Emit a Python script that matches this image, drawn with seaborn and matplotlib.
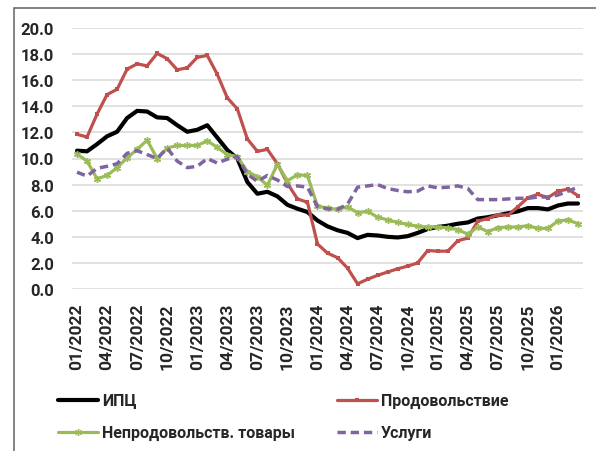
import matplotlib
matplotlib.use('Agg')
import matplotlib.pyplot as plt
import seaborn as sns
import numpy as np
from matplotlib.patches import Rectangle

# monthly data 01/2022 .. 03/2026, % y/y
months = [f'{m:02d}/{y}' for y in range(2022, 2027) for m in range(1, 13)][:51]

cpi = [10.6, 10.55, 11.1, 11.7, 12.05, 13.1, 13.65, 13.6, 13.15, 13.1,
       12.55, 12.05, 12.2, 12.55, 11.6, 10.65, 10.0, 8.2, 7.3, 7.45,
       7.1, 6.45, 6.15, 5.9, 5.25, 4.8, 4.5, 4.3, 3.9, 4.15,
       4.1, 4.0, 3.95, 4.05, 4.3, 4.6, 4.75, 4.85, 5.0, 5.1,
       5.4, 5.5, 5.65, 5.8, 5.95, 6.2, 6.2, 6.1, 6.4, 6.55,
       6.55]
food = [11.85, 11.65, 13.4, 14.9, 15.3, 16.85, 17.25, 17.1, 18.05, 17.65,
        16.8, 16.95, 17.75, 17.9, 16.45, 14.65, 13.8, 11.5, 10.55, 10.7,
        9.6, 8.1, 6.9, 6.65, 3.45, 2.75, 2.4, 1.6, 0.4, 0.75,
        1.05, 1.3, 1.55, 1.75, 2.0, 2.95, 2.9, 2.9, 3.7, 3.9,
        5.2, 5.4, 5.7, 5.65, 6.3, 7.0, 7.25, 7.0, 7.5, 7.65,
        7.15]
nonfood = [10.35, 9.8, 8.45, 8.7, 9.3, 10.05, 10.7, 11.4, 10.0, 10.8,
           11.0, 11.0, 11.0, 11.35, 10.85, 10.3, 10.15, 9.0, 8.6, 7.95,
           9.55, 8.3, 8.75, 8.7, 6.35, 6.2, 6.1, 6.3, 5.85, 5.95,
           5.5, 5.3, 5.1, 4.95, 4.8, 4.75, 4.75, 4.7, 4.55, 4.2,
           4.75, 4.4, 4.7, 4.75, 4.75, 4.85, 4.65, 4.65, 5.2, 5.3,
           5.0]
services = [8.95, 8.65, 9.25, 9.4, 9.6, 10.4, 10.6, 10.3, 10.0, 10.8,
            9.8, 9.3, 9.4, 10.0, 9.65, 9.95, 10.15, 8.8, 8.25, 8.7,
            8.35, 7.85, 7.9, 7.8, 6.3, 6.15, 6.1, 6.5, 7.8, 7.9,
            8.0, 7.7, 7.55, 7.45, 7.5, 7.9, 7.75, 7.8, 7.9, 7.7,
            6.85, 6.85, 6.85, 6.9, 6.95, 6.95, 7.05, 7.05, 7.2, 7.5,
            7.8]

labels = ['ИПЦ', 'Продовольствие', 'Непродовольств. товары', 'Услуги']

sns.set_theme(style='white')
plt.rcParams['font.family'] = ['Liberation Sans Narrow', 'Roboto', 'DejaVu Sans']
plt.rcParams['font.weight'] = 'bold'

fig = plt.figure(figsize=(5.96, 4.52), dpi=100)
ax = fig.add_axes([72 / 596, 1 - 290 / 452, 511 / 596, 261 / 452])

x = np.arange(len(months))
ax.set_axisbelow(True)
ax.yaxis.grid(True, color='#D9D9D9', linewidth=1.1)

sns.lineplot(x=x, y=cpi, ax=ax, color='black', linewidth=3.0,
             solid_joinstyle='round', label=labels[0], legend=False)
sns.lineplot(x=x, y=food, ax=ax, color='#C0504D', linewidth=2.3,
             marker='s', markersize=3.5, markeredgewidth=0,
             label=labels[1], legend=False)
sns.lineplot(x=x, y=nonfood, ax=ax, color='#9BBB59', linewidth=2.3,
             marker=(6, 2, 0), markersize=5, markeredgewidth=1.0,
             markeredgecolor='#9BBB59', label=labels[2], legend=False)
sns.lineplot(x=x, y=services, ax=ax, color='#8064A2', linewidth=2.5,
             linestyle=(0, (2.4, 1.4)), label=labels[3], legend=False)

ax.set_xlim(-0.5, len(months) - 0.5)
ax.set_ylim(0, 20)
ax.set_yticks(np.arange(0, 20.1, 2))
ax.set_yticklabels([f'{v:.1f}' for v in np.arange(0, 20.1, 2)],
                   fontsize=12, fontweight='bold')
ax.set_xticks(x[::3])
ax.set_xticklabels(months[::3], rotation=90, fontsize=12.5, fontweight='bold')
ax.tick_params(axis='y', length=0, pad=13)
ax.tick_params(axis='x', length=0, pad=10)
for s in ax.spines.values():
    s.set_visible(False)

handles, _ = ax.get_legend_handles_labels()
order = [0, 2, 1, 3]
fig.legend([handles[i] for i in order], [labels[i] for i in order],
           ncol=2, frameon=False, loc='upper left',
           bbox_to_anchor=(52 / 596, 1 - 388 / 452),
           prop={'size': 11.5, 'weight': 'bold'},
           handlelength=2.5, handletextpad=0.25, labelspacing=1.05,
           columnspacing=2.6, borderaxespad=0)

# chart area border (left and top edges visible)
fig.patches.append(Rectangle((14 / 596, -0.2), 1.2, 1.2 - 9 / 452,
                             transform=fig.transFigure, fill=False,
                             edgecolor='#6E6E6E', linewidth=1.2))

fig.savefig('out.png', dpi=100)
